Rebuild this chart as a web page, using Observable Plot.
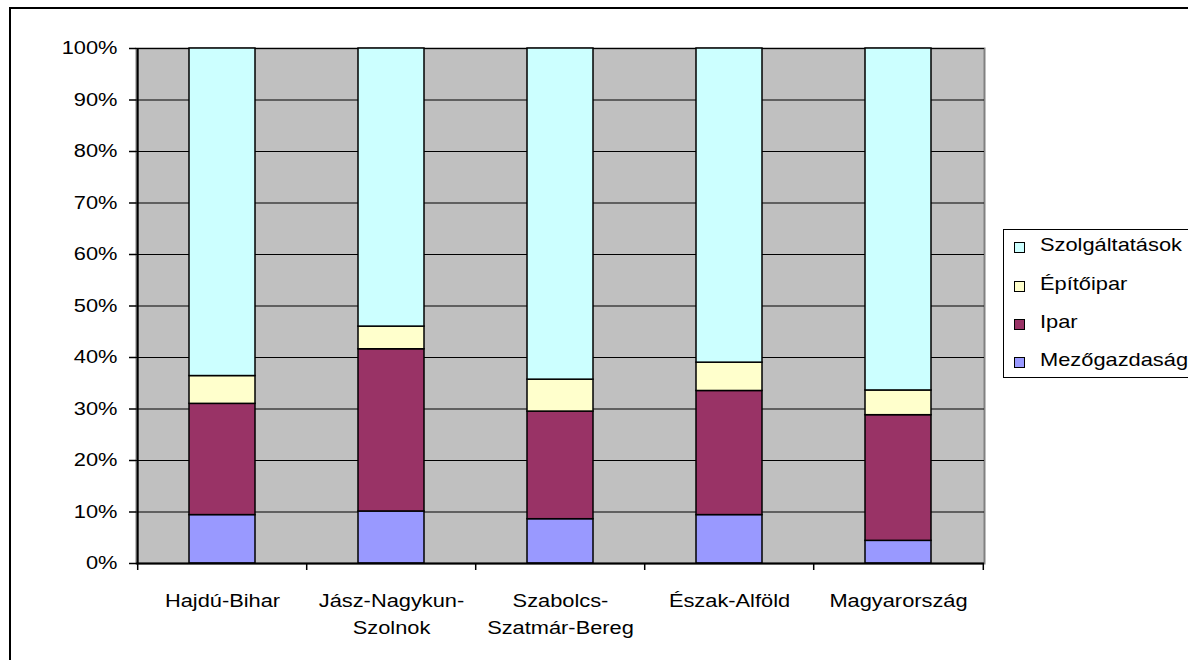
<!DOCTYPE html>
<html>
<head>
<meta charset="utf-8">
<script src="https://cdn.jsdelivr.net/npm/d3@7"></script>
<script src="https://cdn.jsdelivr.net/npm/@observablehq/plot@0.6"></script>
<style>
html, body { margin: 0; padding: 0; background: #fff; overflow: hidden; }
#wrap { position: relative; width: 1188px; height: 660px; overflow: hidden; font-family: "Liberation Sans", Arial, sans-serif; }
#outer { position: absolute; left: 9px; top: 7px; width: 1400px; height: 900px; border-left: 2px solid #000; border-top: 2px solid #000; }
#chart { position: absolute; left: 0; top: 0; }
#legend { position: absolute; left: 1003px; top: 229px; width: 400px; height: 147px; border: 1.5px solid #000; background: #fff; }
.item { position: absolute; left: 0; height: 24px; width: 300px; }
.sw { position: absolute; left: 10px; width: 9px; height: 9px; border: 1px solid #000; }
.lab { position: absolute; left: 36px; top: 0; font-size: 18.5px; line-height: 24px; transform: scaleX(1.18); transform-origin: left center; white-space: nowrap; color: #000; }
</style>
</head>
<body>
<div id="wrap">
  <div id="outer"></div>
  <div id="chart"></div>
  <div id="legend"></div>
</div>
<script>
const regions = ["Hajdú-Bihar", "Jász-Nagykun-Szolnok", "Szabolcs-Szatmár-Bereg", "Észak-Alföld", "Magyarország"];
const regionLabels = ["Hajdú-Bihar", "Jász-Nagykun-\nSzolnok", "Szabolcs-\nSzatmár-Bereg", "Észak-Alföld", "Magyarország"];
const sectors = ["Mezőgazdaság", "Ipar", "Építőipar", "Szolgáltatások"];
const sectorColors = ["#9999FF", "#993366", "#FFFFCC", "#CCFFFF"];
const mezogazdasag = [9.4, 10.1, 8.6, 9.4, 4.4];
const ipar = [21.6, 31.5, 20.9, 24.1, 24.4];
const epitoipar = [5.4, 4.4, 6.2, 5.5, 4.8];
const szolgaltatasok = [63.6, 54.0, 64.3, 61.0, 66.4];
const yTicks = [0, 10, 20, 30, 40, 50, 60, 70, 80, 90, 100];

const series = [mezogazdasag, ipar, epitoipar, szolgaltatasok];
const rows = regions.flatMap((r, i) => sectors.map((s, j) => ({region: r, sector: s, value: series[j][i]})));

const W = 1188, H = 660, ML = 136, MR = 204, MT = 48, MB = 97;
const step = (W - ML - MR) / regions.length;
const SX = 1.18;

const svg = Plot.plot({
  width: W, height: H,
  marginLeft: ML, marginRight: MR, marginTop: MT, marginBottom: MB,
  style: {fontFamily: "'Liberation Sans', Arial, sans-serif", fontSize: "18.5px", color: "#000", background: "transparent", overflow: "visible"},
  x: {domain: regions, paddingInner: 0.61, paddingOuter: 0.305, label: null},
  y: {domain: [0, 100], label: null},
  color: {domain: sectors, range: sectorColors},
  marks: [
    Plot.frame({fill: "#C0C0C0", stroke: "#808080", strokeWidth: 2}),
    Plot.ruleY(yTicks, {stroke: "#000", strokeWidth: 1}),
    Plot.barY(rows, {x: "region", y: "value", fill: "sector", order: sectors, stroke: "#000", strokeWidth: 1.5}),
    Plot.ruleX([regions[0]], {dx: -step / 2, stroke: "#000", strokeWidth: 2}),
    Plot.ruleY([0], {stroke: "#000", strokeWidth: 2}),
    Plot.ruleX(regions, {x: d => d, dx: -step / 2, y1: 0, y2: 0, insetBottom: -7, stroke: "#000", strokeWidth: 1.5}),
    Plot.ruleX([regions[regions.length - 1]], {dx: step / 2, y1: 0, y2: 0, insetBottom: -7, stroke: "#000", strokeWidth: 1.5}),
    Plot.axisY({ticks: yTicks, tickSize: 7, tickPadding: 12, tickFormat: d => d + "%", strokeWidth: 1.5}),
    Plot.axisX({tickSize: 0, tickPadding: 24, lineHeight: 1.46, tickFormat: d => regionLabels[regions.indexOf(d)]})
  ]
});

document.getElementById("chart").appendChild(svg);

// widen the glyphs horizontally around each label's anchor point
svg.querySelectorAll("text").forEach(t => {
  const b = t.getBBox();
  const anchor = t.getAttribute("text-anchor") || getComputedStyle(t).textAnchor;
  const cx = anchor === "end" ? b.x + b.width : anchor === "middle" ? b.x + b.width / 2 : b.x;
  const tr = t.getAttribute("transform") || "";
  t.setAttribute("transform", `${tr} translate(${cx},0) scale(${SX},1) translate(${-cx},0)`);
});

const legend = document.getElementById("legend");
const centers = [15, 54, 92, 130];
const order = [3, 2, 1, 0];
order.forEach((j, k) => {
  const item = document.createElement("div");
  item.className = "item";
  item.style.top = (centers[k] - 12) + "px";
  const sw = document.createElement("div");
  sw.className = "sw";
  sw.style.top = "9px";
  sw.style.background = sectorColors[j];
  const lab = document.createElement("div");
  lab.className = "lab";
  lab.textContent = sectors[j];
  item.appendChild(sw);
  item.appendChild(lab);
  legend.appendChild(item);
});
</script>
</body>
</html>
